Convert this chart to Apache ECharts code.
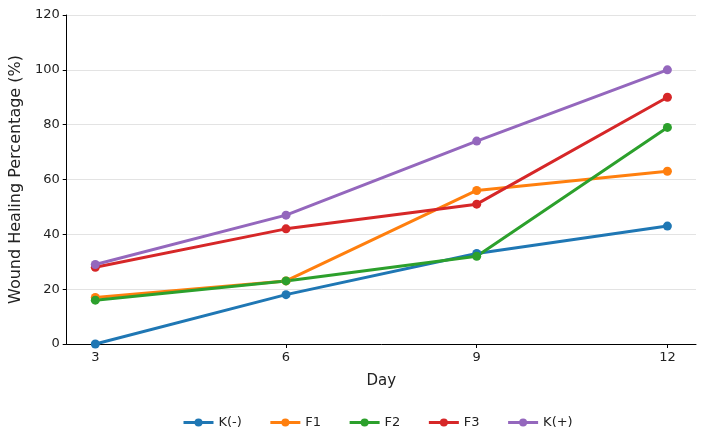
<!DOCTYPE html>
<html>
<head>
<meta charset="utf-8">
<script src="https://cdn.jsdelivr.net/npm/echarts@6/dist/echarts.min.js"></script>
<style>
  html, body { margin: 0; padding: 0; background: #fff; }
  #chart { width: 706px; height: 444px; }
</style>
</head>
<body>
<div id="chart"></div>
<script>
  // days on the x axis
  const days = [3, 6, 9, 12];
  const seriesNames = ['K(-)', 'F1', 'F2', 'F3', 'K(+)'];
  const kNeg = [0, 18, 33, 43];
  const f1 = [17, 23, 56, 63];
  const f2 = [16, 23, 32, 79];
  const f3 = [28, 42, 51, 90];
  const kPos = [29, 47, 74, 100];
  const yTicks = [0, 20, 40, 60, 80, 100, 120];

  const colorList = ['#1f77b4', '#ff7f0e', '#2ca02c', '#d62728', '#9467bd'];
  const values = [kNeg, f1, f2, f3, kPos];
  const font = 'DejaVu Sans';

  const myChart = echarts.init(document.getElementById('chart'));
  const option = {
    animation: false,
    color: colorList,
    textStyle: { fontFamily: font },
    grid: { left: 65, right: 10, top: 15, bottom: 100 },
    legend: {
      bottom: 10,
      left: 177,
      itemWidth: 30,
      itemHeight: 10,
      itemGap: 27,
      lineStyle: { width: 3 },
      textStyle: { fontSize: 13, color: '#222', fontFamily: font },
      data: seriesNames
    },
    xAxis: {
      type: 'value',
      min: 2.55,
      max: 12.45,
      name: 'Day',
      nameLocation: 'middle',
      nameGap: 30,
      nameTextStyle: { fontSize: 15, color: '#222', fontFamily: font },
      splitLine: { show: false },
      axisLine: { lineStyle: { color: '#000', width: 1 } },
      axisTick: { show: true, customValues: days, length: 4, lineStyle: { color: '#000' } },
      axisLabel: { customValues: days, fontSize: 13, color: '#222', margin: 7 }
    },
    yAxis: {
      type: 'value',
      min: 0,
      max: 120,
      interval: 20,
      name: 'Wound Healing Percentage (%)',
      nameLocation: 'middle',
      nameGap: 42,
      nameTextStyle: { fontSize: 16, color: '#222', fontFamily: font },
      axisLine: { show: true, lineStyle: { color: '#000', width: 1 } },
      axisTick: { show: true, length: 4, lineStyle: { color: '#000' } },
      axisLabel: {
        fontSize: 13, color: '#222', margin: 7,
        formatter: v => yTicks.includes(v) ? String(v) : ''
      },
      splitLine: { show: true, lineStyle: { color: '#dcdcdc', width: 0.8 } }
    },
    series: seriesNames.map((name, i) => ({
      name: name,
      type: 'line',
      data: days.map((d, j) => [d, values[i][j]]),
      symbol: 'circle',
      symbolSize: 9,
      lineStyle: { width: 3 },
      itemStyle: { color: colorList[i] },
      emphasis: { disabled: true }
    }))
  };
  myChart.setOption(option);
  window.addEventListener('resize', () => {
    myChart.resize();
  });
</script>
</body>
</html>
